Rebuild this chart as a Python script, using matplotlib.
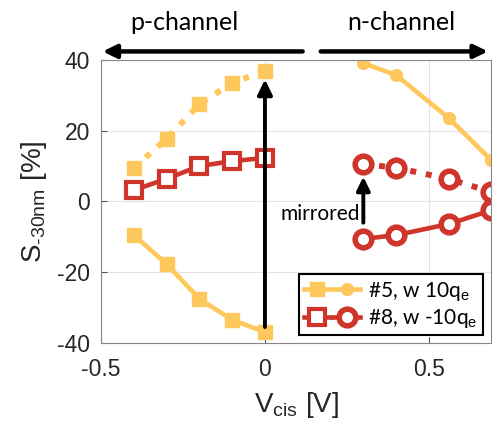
import matplotlib
matplotlib.use("Agg")
import matplotlib.pyplot as plt
from matplotlib.lines import Line2D
from matplotlib.legend_handler import HandlerTuple

# p-channel data (square markers)
vp = [-0.4, -0.3, -0.2, -0.1, 0.0]
s5_p_mirror = [9.5, 17.7, 27.5, 33.5, 36.9]
s5_p = [-9.5, -17.7, -27.5, -33.5, -36.9]
s8_p = [3.2, 6.4, 10.0, 11.4, 12.3]

# n-channel data (circle markers)
vn = [0.3, 0.4, 0.56, 0.69]
s5_n = [39.1, 35.7, 23.6, 11.7]
s8_n_mirror = [10.6, 9.5, 6.4, 2.7]
s8_n = [-10.6, -9.5, -6.4, -2.5]

yellow = '#FFC85C'
red = '#D0352B'
label_font = ['Lato', 'DejaVu Sans']
tick_font = ['Liberation Sans', 'DejaVu Sans']

plt.rcParams['mathtext.fontset'] = 'custom'
plt.rcParams['mathtext.rm'] = 'Liberation Sans'

fig = plt.figure(figsize=(4.99, 4.25), dpi=100)
ax = fig.add_axes([0.2024, 0.193, 0.782, 0.666])

lw = 3.3
ax.plot(vp, s5_p_mirror, ':', color=yellow, lw=lw + 1, marker='s', ms=10,
        mfc=yellow, mec=yellow)
ax.plot(vp, s5_p, '-', color=yellow, lw=lw, marker='s', ms=10,
        mfc=yellow, mec=yellow)
ax.plot(vp, s8_p, '-', color=red, lw=lw, marker='s', ms=11.5,
        mfc='white', mec=red, mew=3)
ax.plot(vn, s5_n, '-', color=yellow, lw=lw, marker='o', ms=8.5,
        mfc=yellow, mec=yellow)
ax.plot(vn, s8_n_mirror, ':', color=red, lw=lw + 1, marker='o', ms=12,
        mfc='white', mec=red, mew=4)
ax.plot(vn, s8_n, '-', color=red, lw=lw, marker='o', ms=12,
        mfc='white', mec=red, mew=4)

ax.set_xlim(-0.5, 0.69)
ax.set_ylim(-40, 40)
ax.set_xticks([-0.5, 0, 0.5])
ax.set_xticklabels(['-0.5', '0', '0.5'])
ax.set_yticks([-40, -20, 0, 20, 40])
ax.set_yticklabels(['-40', '-20', '0', '20', '40'])
ax.grid(True, color='#e3e3e3', lw=0.8)
ax.set_axisbelow(True)
ax.tick_params(direction='in', length=4, labelsize=16.5, color='#555555')
ax.tick_params(axis='x', pad=11)
ax.tick_params(axis='y', pad=8)
for lab in ax.get_xticklabels() + ax.get_yticklabels():
    lab.set_family(tick_font)
    lab.set_color('#262626')
for sp in ax.spines.values():
    sp.set_color('#888888')
    sp.set_linewidth(0.8)

ax.set_xlabel('V$_{\\text{cis}}$ [V]', fontsize=20, family=tick_font,
              color='#262626', labelpad=6)
ax.set_ylabel('S$_{\\text{-30nm}}$ [%]', fontsize=20, family=tick_font,
              color='#262626', labelpad=6)

# arrows inside the plot
head = '-|>,head_length=0.45,head_width=0.22'
ax.annotate('', xy=(0, 34.5), xytext=(0, -35.5),
            arrowprops=dict(arrowstyle=head, color='black', lw=2.8,
                            mutation_scale=20, shrinkA=0, shrinkB=0))
ax.annotate('', xy=(0.3, 7.0), xytext=(0.3, -6.0),
            arrowprops=dict(arrowstyle=head, color='black', lw=2.8,
                            mutation_scale=18, shrinkA=0, shrinkB=0))
ax.text(0.29, -3.5, 'mirrored', ha='right', va='center', fontsize=15,
        family=label_font)

# channel arrows above the axes
ax.annotate('', xy=(-0.495, 1.03), xytext=(0.115, 1.03),
            xycoords=('data', 'axes fraction'),
            arrowprops=dict(arrowstyle=head, color='black', lw=3.2,
                            mutation_scale=18, shrinkA=0, shrinkB=0),
            annotation_clip=False)
ax.annotate('', xy=(0.68, 1.03), xytext=(0.17, 1.03),
            xycoords=('data', 'axes fraction'),
            arrowprops=dict(arrowstyle=head, color='black', lw=3.2,
                            mutation_scale=18, shrinkA=0, shrinkB=0),
            annotation_clip=False)
fig.text(0.37, 0.947, 'p-channel', ha='center', va='center', fontsize=18,
         family=label_font)
fig.text(0.805, 0.947, 'n-channel', ha='center', va='center', fontsize=18,
         family=label_font)

# legend with square + circle handles
h5 = (Line2D([], [], color=yellow, lw=lw, marker='s', ms=10, mfc=yellow, mec=yellow),
      Line2D([], [], color=yellow, lw=lw, marker='o', ms=8.5, mfc=yellow, mec=yellow))
h8 = (Line2D([], [], color=red, lw=lw, marker='s', ms=11.5, mfc='white', mec=red, mew=3),
      Line2D([], [], color=red, lw=lw, marker='o', ms=12, mfc='white', mec=red, mew=4))
leg = ax.legend([h5, h8], ['#5, w 10q$_{\\text{e}}$', '#8, w -10q$_{\\text{e}}$'],
                handler_map={tuple: HandlerTuple(ndivide=None, pad=0.1)},
                loc='lower right', bbox_to_anchor=(0.979, 0.028),
                prop={'family': label_font, 'size': 15},
                fancybox=False, edgecolor='black', framealpha=1,
                handlelength=2.7, handletextpad=0.4, borderpad=0.25,
                labelspacing=0.2, borderaxespad=0)
leg.get_frame().set_linewidth(1.5)

fig.savefig('out.png', dpi=100)
